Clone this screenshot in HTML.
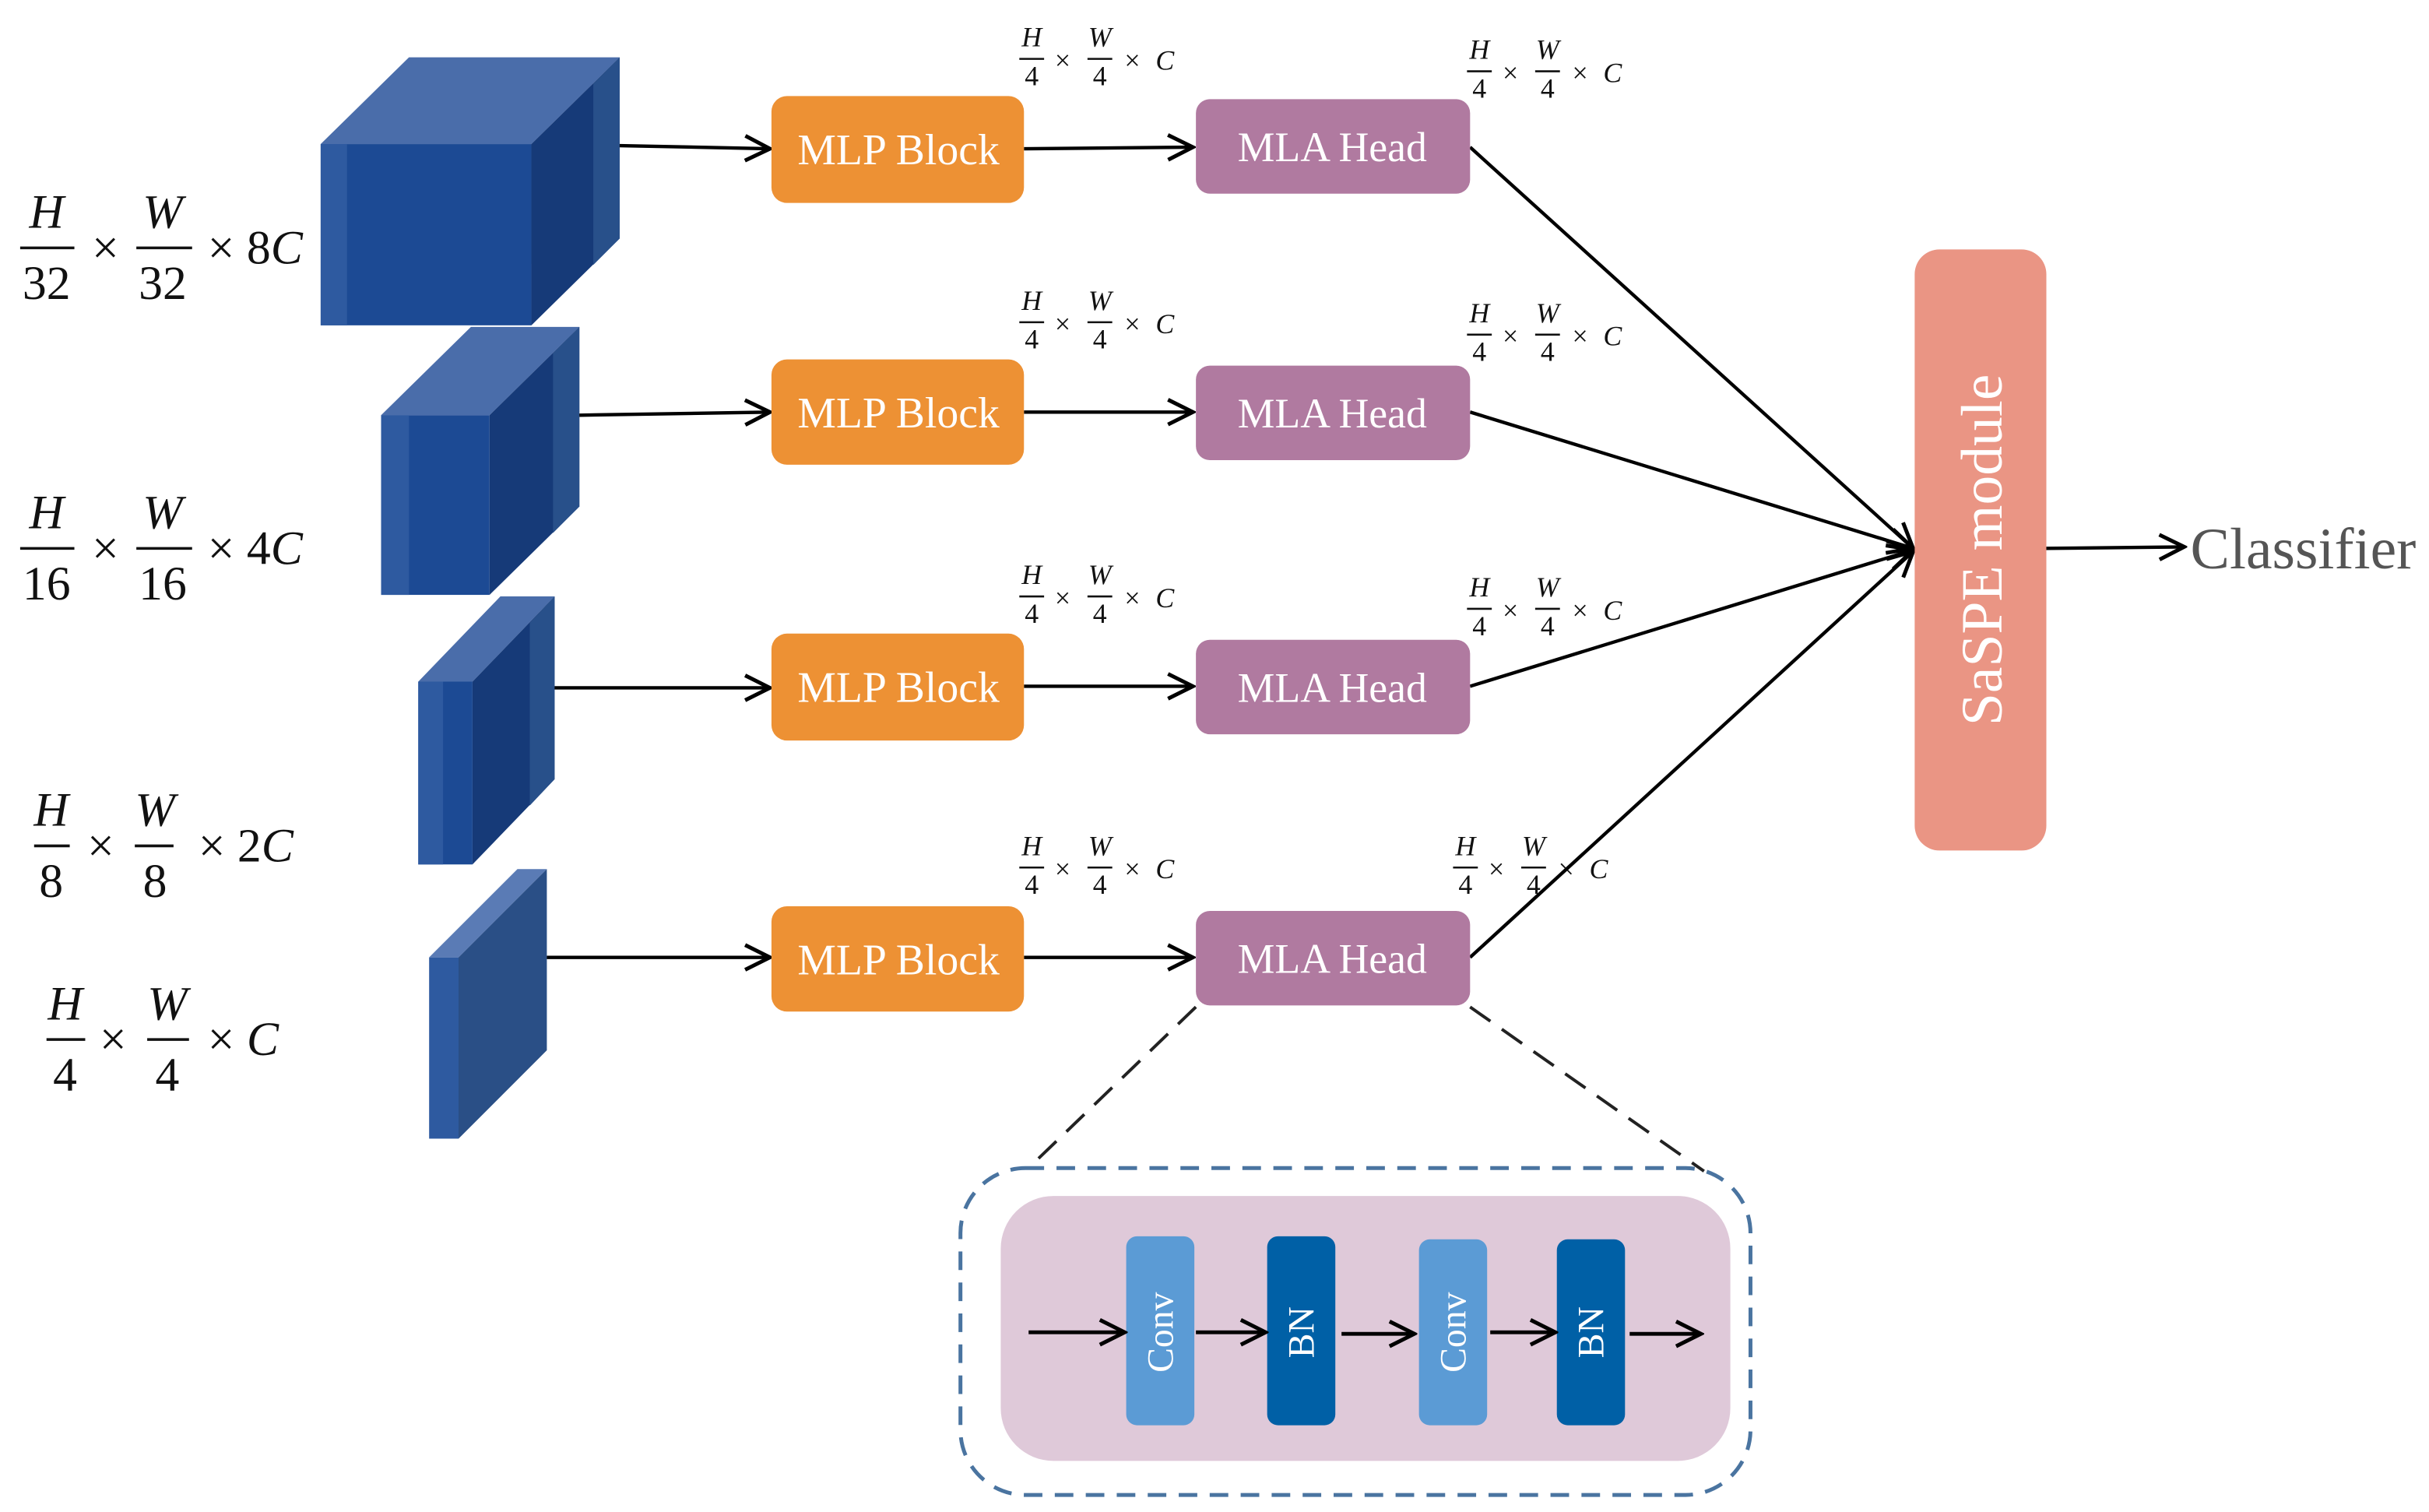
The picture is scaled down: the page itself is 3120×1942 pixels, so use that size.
<!DOCTYPE html>
<html><head><meta charset="utf-8"><style>
html,body{margin:0;padding:0;background:#fff;}
svg{display:block;}
.w{font-family:"Liberation Serif",serif;fill:#fff;}
.m{font-family:"Liberation Serif",serif;font-style:italic;fill:#111;}
.n{font-family:"Liberation Serif",serif;fill:#111;}
</style></head><body>
<svg width="3120" height="1942" viewBox="0 0 1568 976" xmlns="http://www.w3.org/2000/svg">
<defs>
<marker id="a" viewBox="0 0 20 20" refX="18" refY="10" markerWidth="20" markerHeight="20" markerUnits="userSpaceOnUse" orient="auto">
<path d="M2 2 L18 10 L2 18" fill="none" stroke="#000" stroke-width="2.5"/></marker>
<g id="sf">
<text class="m" x="8" y="0" font-size="18" text-anchor="middle">H</text>
<line x1="0" y1="8" x2="16" y2="8" stroke="#111" stroke-width="1.3"/>
<text class="n" x="8" y="25" font-size="18" text-anchor="middle">4</text>
<text class="n" x="28" y="15" font-size="18" text-anchor="middle">×</text>
<text class="m" x="52" y="0" font-size="18" text-anchor="middle">W</text>
<line x1="44" y1="8" x2="60" y2="8" stroke="#111" stroke-width="1.3"/>
<text class="n" x="52" y="25" font-size="18" text-anchor="middle">4</text>
<text class="n" x="73" y="15" font-size="18" text-anchor="middle">×</text>
<text class="m" x="94" y="15" font-size="18" text-anchor="middle">C</text>
</g>
</defs>

<!-- cubes -->
<g>
<polygon points="207,93 264,37 400,37 343,93" fill="#4a6daa"/>
<polygon points="343,93 400,37 400,154 343,210" fill="#163a78"/>
<polygon points="383,54 400,37 400,154 383,171" fill="#28508a"/>
<rect x="207" y="93" width="136" height="117" fill="#1c4a94"/>
<rect x="207" y="93" width="17" height="117" fill="#2e5aa0"/>

<polygon points="246,268 304,211 374,211 316,268" fill="#4a6daa"/>
<polygon points="316,268 374,211 374,327 316,384" fill="#163a78"/>
<polygon points="357,228 374,211 374,327 357,344" fill="#28508a"/>
<rect x="246" y="268" width="70" height="116" fill="#1c4a94"/>
<rect x="246" y="268" width="18" height="116" fill="#2e5aa0"/>

<polygon points="270,440 323,385 358,385 305,440" fill="#4a6daa"/>
<polygon points="305,440 358,385 358,503 305,558" fill="#163a78"/>
<polygon points="342,402 358,385 358,503 342,520" fill="#28508a"/>
<rect x="270" y="440" width="35" height="118" fill="#1c4a94"/>
<rect x="270" y="440" width="16" height="118" fill="#2e5aa0"/>

<polygon points="277,618 334,561 353,561 296,618" fill="#5a7bb5"/>
<polygon points="296,618 353,561 353,678 296,735" fill="#2a4f86"/>
<rect x="277" y="618" width="19" height="117" fill="#2e5aa0"/>
</g>

<!-- big labels -->
<g font-size="31">
<text class="m" x="30" y="147" text-anchor="middle">H</text><line x1="13" y1="160" x2="48" y2="160" stroke="#111" stroke-width="1.8"/><text class="n" x="30" y="193" text-anchor="middle">32</text>
<text class="n" x="68" y="170" text-anchor="middle">×</text>
<text class="m" x="105" y="147" text-anchor="middle">W</text><line x1="88" y1="160" x2="124" y2="160" stroke="#111" stroke-width="1.8"/><text class="n" x="105" y="193" text-anchor="middle">32</text>
<text class="n" x="134" y="170">× 8<tspan font-style="italic">C</tspan></text>

<text class="m" x="30" y="341" text-anchor="middle">H</text><line x1="13" y1="354" x2="48" y2="354" stroke="#111" stroke-width="1.8"/><text class="n" x="30" y="387" text-anchor="middle">16</text>
<text class="n" x="68" y="364" text-anchor="middle">×</text>
<text class="m" x="105" y="341" text-anchor="middle">W</text><line x1="88" y1="354" x2="124" y2="354" stroke="#111" stroke-width="1.8"/><text class="n" x="105" y="387" text-anchor="middle">16</text>
<text class="n" x="134" y="364">× 4<tspan font-style="italic">C</tspan></text>

<text class="m" x="33" y="533" text-anchor="middle">H</text><line x1="22" y1="546" x2="45" y2="546" stroke="#111" stroke-width="1.8"/><text class="n" x="33" y="579" text-anchor="middle">8</text>
<text class="n" x="65" y="556" text-anchor="middle">×</text>
<text class="m" x="100" y="533" text-anchor="middle">W</text><line x1="87" y1="546" x2="112" y2="546" stroke="#111" stroke-width="1.8"/><text class="n" x="100" y="579" text-anchor="middle">8</text>
<text class="n" x="128" y="556">× 2<tspan font-style="italic">C</tspan></text>

<text class="m" x="42" y="658" text-anchor="middle">H</text><line x1="30" y1="671" x2="55" y2="671" stroke="#111" stroke-width="1.8"/><text class="n" x="42" y="704" text-anchor="middle">4</text>
<text class="n" x="73" y="681" text-anchor="middle">×</text>
<text class="m" x="108" y="658" text-anchor="middle">W</text><line x1="95" y1="671" x2="122" y2="671" stroke="#111" stroke-width="1.8"/><text class="n" x="108" y="704" text-anchor="middle">4</text>
<text class="n" x="134" y="681">× <tspan font-style="italic">C</tspan></text>
</g>

<!-- small labels -->
<use href="#sf" x="658" y="30"/><use href="#sf" x="658" y="200"/><use href="#sf" x="658" y="377"/><use href="#sf" x="658" y="552"/>
<use href="#sf" x="947" y="38"/><use href="#sf" x="947" y="208"/><use href="#sf" x="947" y="385"/><use href="#sf" x="938" y="552"/>

<!-- arrows -->
<g stroke="#000" stroke-width="2.2" fill="none" marker-end="url(#a)">
<line x1="400" y1="94" x2="497" y2="96"/>
<line x1="374" y1="268" x2="497" y2="266"/>
<line x1="358" y1="444" x2="497" y2="444"/>
<line x1="353" y1="618" x2="497" y2="618"/>
<line x1="661" y1="96" x2="770" y2="95"/>
<line x1="661" y1="266" x2="770" y2="266"/>
<line x1="661" y1="443" x2="770" y2="443"/>
<line x1="661" y1="618" x2="770" y2="618"/>
<line x1="949" y1="95" x2="1235" y2="354"/>
<line x1="949" y1="266" x2="1235" y2="354"/>
<line x1="949" y1="443" x2="1235" y2="355"/>
<line x1="949" y1="618" x2="1235" y2="356"/>
<line x1="1321" y1="354" x2="1410" y2="353"/>
</g>

<!-- MLP blocks -->
<g fill="#ed9134">
<rect x="498" y="62" width="163" height="69" rx="10"/>
<rect x="498" y="232" width="163" height="68" rx="10"/>
<rect x="498" y="409" width="163" height="69" rx="10"/>
<rect x="498" y="585" width="163" height="68" rx="10"/>
</g>
<g class="w" font-size="28" text-anchor="middle">
<text x="580" y="106">MLP Block</text><text x="580" y="276">MLP Block</text><text x="580" y="453">MLP Block</text><text x="580" y="629">MLP Block</text>
</g>
<g fill="#b07aa0">
<rect x="772" y="64" width="177" height="61" rx="9"/>
<rect x="772" y="236" width="177" height="61" rx="9"/>
<rect x="772" y="413" width="177" height="61" rx="9"/>
<rect x="772" y="588" width="177" height="61" rx="9"/>
</g>
<g class="w" font-size="27" text-anchor="middle">
<text x="860" y="104">MLA Head</text><text x="860" y="276">MLA Head</text><text x="860" y="453">MLA Head</text><text x="860" y="628">MLA Head</text>
</g>

<!-- SaSPE -->
<rect x="1236" y="161" width="85" height="388" rx="16" fill="#ea9584"/>
<text class="w" font-size="38" text-anchor="middle" transform="translate(1292,355) rotate(-90)">SaSPE module</text>
<text x="1414" y="367" font-family="Liberation Serif,serif" font-size="38" fill="#555">Classifier</text>

<!-- zoom-out -->
<g stroke="#222" stroke-width="2" stroke-dasharray="16,9" fill="none">
<line x1="772" y1="650" x2="666" y2="752"/>
<line x1="949" y1="650" x2="1100" y2="756"/>
</g>
<rect x="620" y="754" width="510" height="211" rx="42" fill="none" stroke="#4a74a0" stroke-width="2.5" stroke-dasharray="12,8"/>
<rect x="646" y="772" width="471" height="171" rx="34" fill="#dfc9d9"/>
<rect x="727" y="798" width="44" height="122" rx="7" fill="#5b9bd5"/>
<rect x="818" y="798" width="44" height="122" rx="7" fill="#0060a6"/>
<rect x="916" y="800" width="44" height="120" rx="7" fill="#5b9bd5"/>
<rect x="1005" y="800" width="44" height="120" rx="7" fill="#0060a6"/>
<g class="w" font-size="24" text-anchor="middle">
<text transform="translate(757,860) rotate(-90)">Conv</text>
<text transform="translate(848,860) rotate(-90)">BN</text>
<text transform="translate(946,860) rotate(-90)">Conv</text>
<text transform="translate(1035,860) rotate(-90)">BN</text>
</g>
<g stroke="#000" stroke-width="2.5" fill="none" marker-end="url(#a)">
<line x1="664" y1="860" x2="726" y2="860"/>
<line x1="772" y1="860" x2="817" y2="860"/>
<line x1="866" y1="861" x2="913" y2="861"/>
<line x1="962" y1="860" x2="1004" y2="860"/>
<line x1="1052" y1="861" x2="1098" y2="861"/>
</g>
</svg>
</body></html>
